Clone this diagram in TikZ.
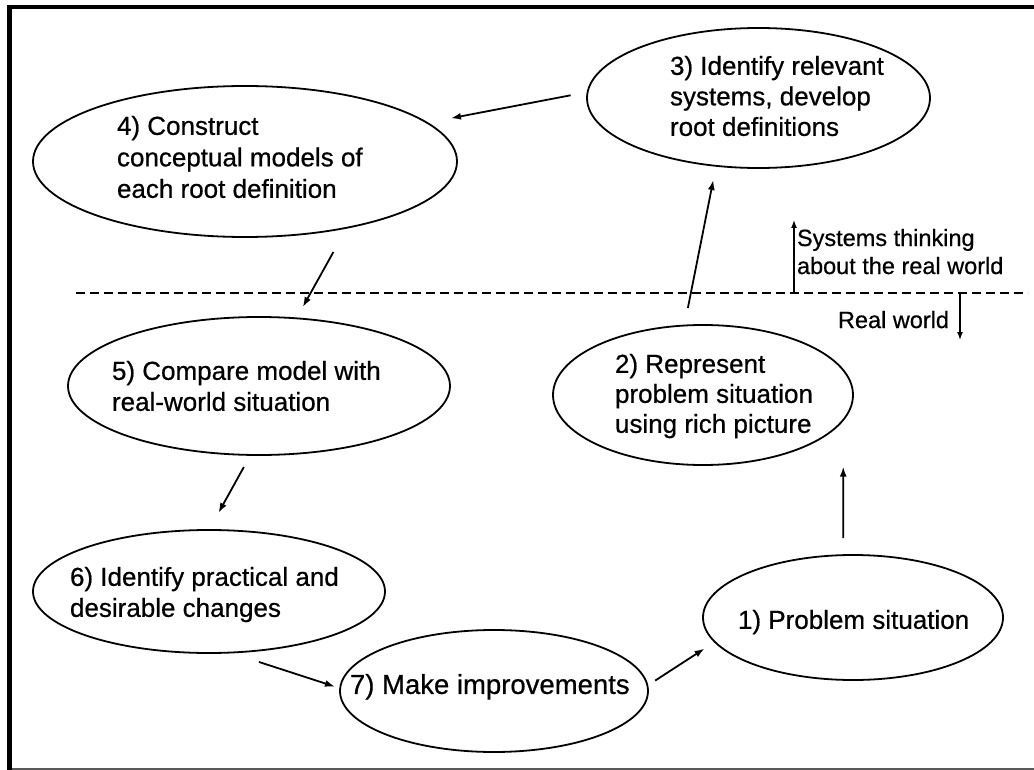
\documentclass[tikz,border=0pt]{standalone}
\usepackage{fontspec}
\setmainfont{Liberation Sans}[FakeBold=0.6]
\usetikzlibrary{shapes.geometric,arrows.meta}
\begin{document}
\begin{tikzpicture}[x=1pt,y=-1pt,
  ell/.style={draw, ellipse, line width=1.8pt, inner sep=0pt, outer sep=0pt},
  lbl/.style={anchor=north west, inner sep=0pt, outer sep=0pt, align=left, text=black},
  big/.style={font=\fontsize{26pt}{#1}\selectfont},
  small/.style={font=\fontsize{23.5pt}{28pt}\selectfont},
  arr/.style={line width=1.8pt, -{Latex[length=10pt,width=7pt]}},
  side/.style={line width=1.4pt, -{Latex[length=8pt,width=6pt]}}]
\useasboundingbox (0,0) rectangle (1034,770);
% frame
\fill[black] (7,5) rectangle (12,770);
\fill[black] (7,5) rectangle (1034,9);
\draw[black!65, line width=2pt] (12,768.5) -- (1034,768.5);
% dashed boundary
\coordinate (dl) at (76,293);
\coordinate (dr) at (1028,293);
\draw[line width=1.8pt, dash pattern=on 9pt off 5pt] (dl) -- (dr);
% ellipses
\node[ell, minimum width=300pt, minimum height=125pt] (e1) at (853,617.5) {};
\node[ell, minimum width=300pt, minimum height=140pt] (e2) at (703,395) {};
\node[ell, minimum width=343pt, minimum height=140pt] (e3) at (758.5,98) {};
\node[ell, minimum width=424pt, minimum height=151pt] (e4) at (245,161.5) {};
\node[ell, minimum width=382pt, minimum height=138pt] (e5) at (259,386) {};
\node[ell, minimum width=352pt, minimum height=123pt] (e6) at (209,591.5) {};
\node[ell, minimum width=308pt, minimum height=122pt] (e7) at (494,691) {};
% texts
\node[lbl, big=31pt] (t1) at (738,610) {1) Problem situation};
\node[lbl, big=30pt] (t2) at (615,354) {2) Represent\\problem situation\\using rich picture};
\node[lbl, big=30.5pt] (t3) at (670,56) {3) Identify relevant\\systems, develop\\root definitions};
\node[lbl, big=31.5pt] (t4) at (117,116) {4) Construct\\conceptual models of\\each root definition};
\node[lbl, big=31pt] (t5) at (112,361) {5) Compare model with\\real-world situation};
\node[lbl, big=31pt] (t6) at (70,567) {6) Identify practical and\\desirable changes};
\node[lbl, font=\fontsize{27.5pt}{32pt}\selectfont] (t7) at (350,674) {7) Make improvements};
\node[lbl, small] (ts) at (797,229) {Systems thinking\\about the real world};
\node[lbl, small] (tr) at (838,311) {Real world};
% cycle arrows
\draw[arr, shorten <=17.1pt, shorten >=46.9pt] (e1.99.1) -- (e2.-10.2);
\draw[arr, shorten <=18pt, shorten >=14.5pt] (e2.105.8) -- (e3.-122.1);
\draw[arr, shorten <=17.3pt, shorten >=24.4pt] (e3.178.7) -- (e4.12.25);
\draw[arr, shorten <=27.8pt, shorten >=13pt] (e4.-33.1) -- (e5.61.6);
\draw[arr, shorten <=13.8pt, shorten >=19.6pt] (e5.-97.8) -- (e6.90.3);
\draw[arr, shorten <=30.4pt, shorten >=5.5pt] (e6.-71.8) -- (e7.179.1);
\draw[arr, shorten <=9.3pt, shorten >=12.3pt] (e7.2.1) -- (e1.-170.9);
% side arrows
\coordinate (s0) at (794,293);
\coordinate (s1) at (794,220);
\coordinate (r0) at (960,293);
\coordinate (r1) at (960,340);
\draw[side] (s0) -- (s1);
\draw[side] (r0) -- (r1);
\end{tikzpicture}
\end{document}
